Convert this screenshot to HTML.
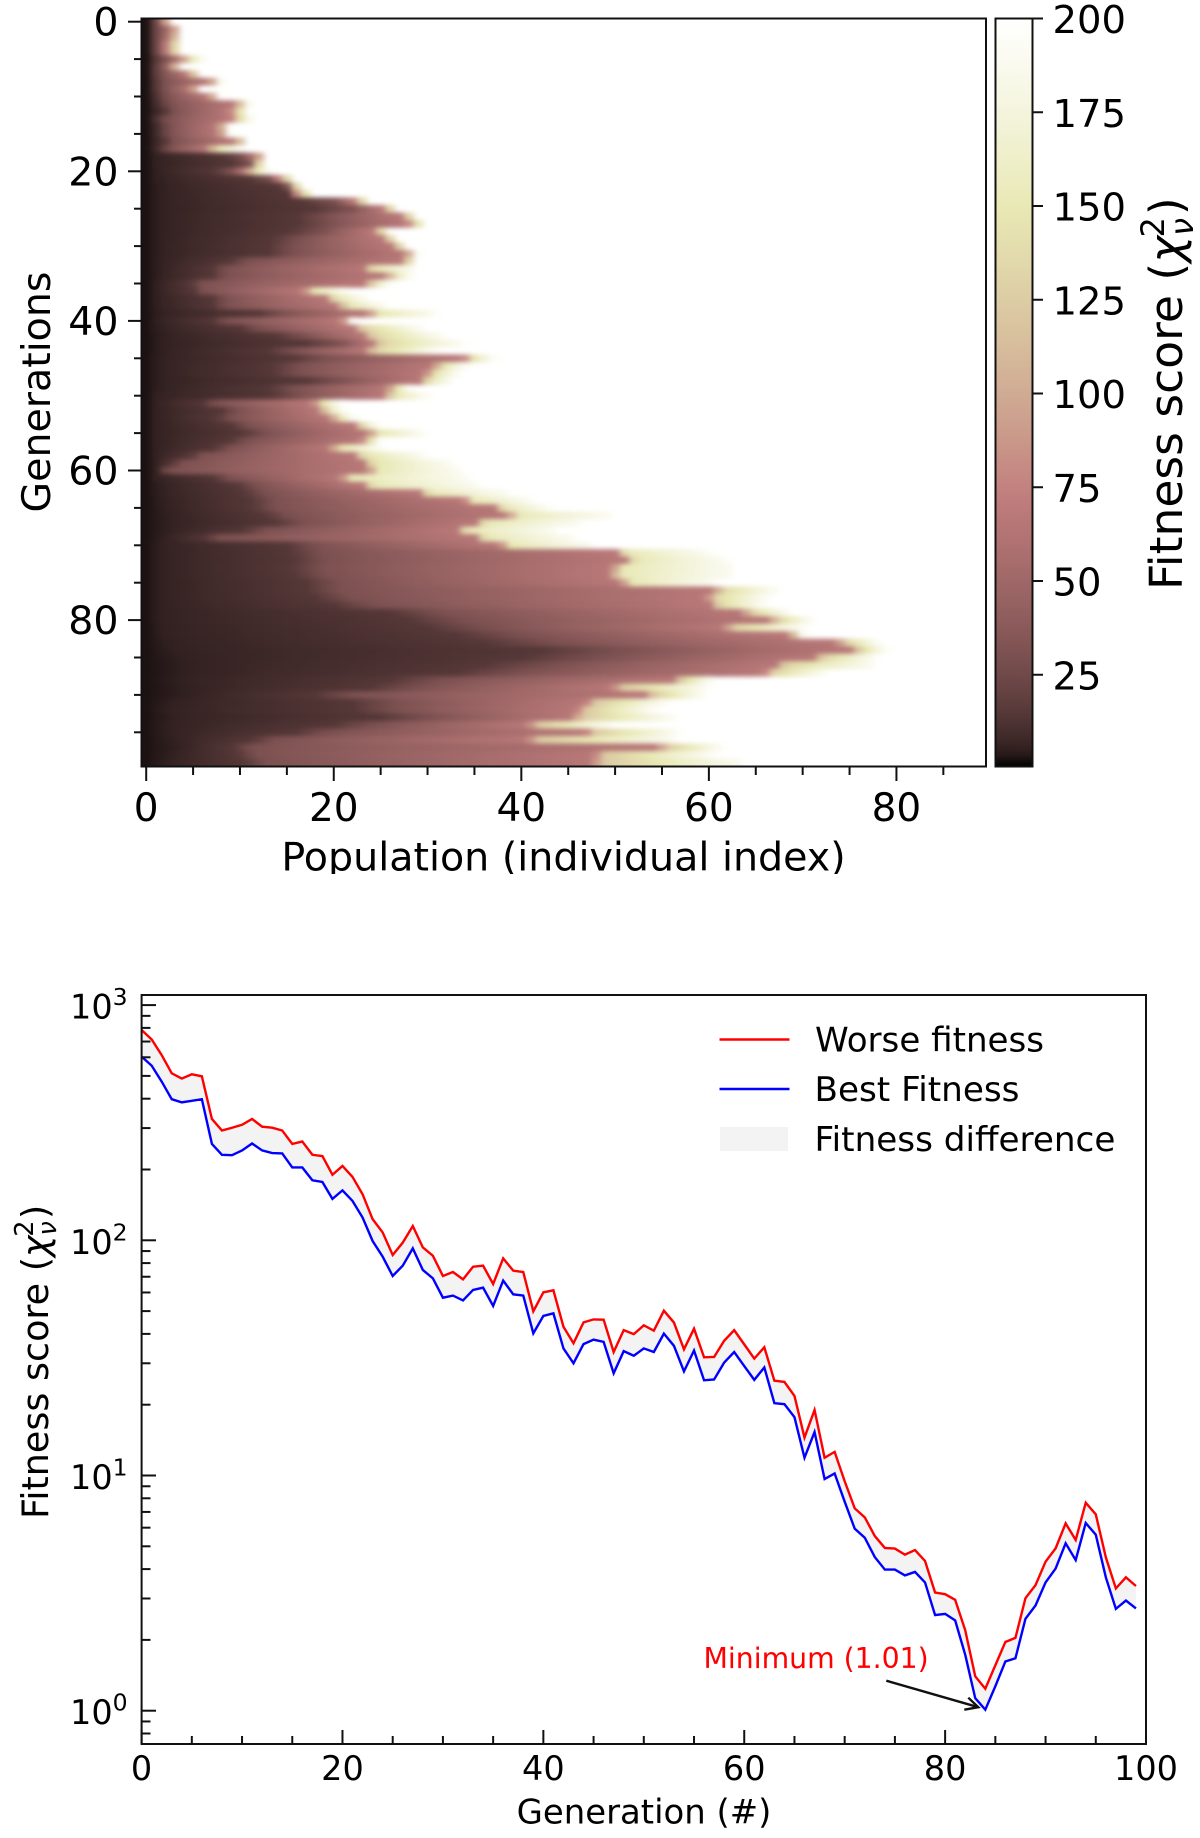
<!DOCTYPE html>
<html lang="en">
<head>
<meta charset="utf-8">
<title>Fitness heatmap and fitness curves</title>
<style>
html,body{margin:0;padding:0;background:#fff;}
svg{display:block;font-family:"DejaVu Sans","Liberation Sans",sans-serif;}
text{fill:#000;}
</style>
</head>
<body>
<svg id="figure" xmlns="http://www.w3.org/2000/svg" width="1200" height="1838" viewBox="0 0 1200 1838">
  <defs>
    <filter id="heat-blur" filterUnits="userSpaceOnUse" x="100" y="-20" width="950" height="830" color-interpolation-filters="sRGB">
      <feGaussianBlur stdDeviation="3.2 2.3"/>
    </filter>
    <clipPath id="heat-clip"><rect x="141.5" y="18" width="844.5" height="748.5"/></clipPath>
    <clipPath id="xlabel-clip"><rect x="200" y="830" width="800" height="44"/></clipPath>
    <linearGradient id="cbar-gradient" x1="0" y1="1" x2="0" y2="0"></linearGradient>
  </defs>

  <g id="heat-panel">
    <g clip-path="url(#heat-clip)">
      <g id="heat-cells" filter="url(#heat-blur)">
        <rect x="100" y="-20" width="950" height="830" fill="#fff"/>
      </g>
    </g>
    <rect x="141.5" y="18.5" width="844.5" height="748" fill="none" stroke="#111" stroke-width="2"/>
    <g id="heat-axes" stroke="#111" stroke-width="2"></g>
    <text transform="translate(50,392) rotate(-90)" text-anchor="middle" font-size="39.5">Generations</text>
    <g clip-path="url(#xlabel-clip)">
      <text x="563.5" y="870.5" text-anchor="middle" font-size="39.6">Population (individual index)</text>
    </g>
  </g>

  <g id="colorbar">
    <rect x="995.5" y="18.5" width="37" height="748" fill="url(#cbar-gradient)" stroke="#111" stroke-width="2"/>
    <g id="cbar-axis" stroke="#111" stroke-width="2"></g>
    <text transform="translate(1182,590) rotate(-90)" font-size="45.6">Fitness score (<tspan font-style="italic">χ</tspan><tspan font-style="italic" font-size="32" dy="11">ν</tspan><tspan font-size="32" dx="-19.5" dy="-29">2</tspan><tspan dx="2" dy="18">)</tspan></text>
  </g>

  <g id="line-panel">
    <g id="line-marks"></g>
    <rect x="141.6" y="995" width="1004.4" height="749" fill="none" stroke="#111" stroke-width="2"/>
    <g id="line-axes" stroke="#111" stroke-width="2"></g>
    <text transform="translate(48,1519) rotate(-90)" font-size="36.5">Fitness score (<tspan font-style="italic">χ</tspan><tspan font-style="italic" font-size="25.5" dy="8">ν</tspan><tspan font-size="25.5" dx="-15.5" dy="-23">2</tspan><tspan dx="1.5" dy="15">)</tspan></text>
    <text x="644" y="1823.5" text-anchor="middle" font-size="33.9">Generation (#)</text>

    <g>
      <line x1="719.5" y1="1039.5" x2="789.5" y2="1039.5" stroke="#ff0000" stroke-width="2.4"/>
      <text x="815" y="1051.5" font-size="34.1">Worse fitness</text>
      <line x1="719.5" y1="1089" x2="789.5" y2="1089" stroke="#0000ff" stroke-width="2.4"/>
      <text x="814.5" y="1101" font-size="34.2">Best Fitness</text>
      <rect x="720" y="1127" width="68" height="24" fill="#f3f3f3"/>
      <text x="814.5" y="1151" font-size="34.2">Fitness difference</text>
    </g>

    <text x="703.5" y="1668" font-size="28.3" style="fill:#ff0000">Minimum (1.01)</text>
    <g id="min-arrow" fill="none" stroke="#111" stroke-width="2.4"></g>
  </g>
</svg>

<script>
// ---- heatmap data: per generation, the population index where the fitness crosses each level ----
const heatEdgeDark = [
  .3,.3,.3,.3,.3,.5,.5,.5,.5,.5, .6,.6,.8,.6,.8,.8,.8,.8,1,1,
  1.2,1.2,1.5,1.5,1.5,1.5,1.5,1.5,1.5,1.5, 1.5,1.5,1.5,1.5,1.5,1.2,1.2,1.2,1.2,1.5,
  1.2,1.5,2,2,2,1.5,1.5,1.5,1.5,1.5, 1,1,1,1,1,1,1,1,1,1,
  1,1,1.5,1.5,2,2,2.5,2.5,2.5,2, 1.5,1.5,1.5,1.5,1.5,1.5,1.5,1.5,1.5,1.5,
  1.5,2,2,2.5,3,4,4.5,4.5,4,4.5, 4.5,3,2.5,3,2.5,2.5,3,3.5,3,2.5
];
const heatEdgeMid = [
  .4,.5,.5,.5,.5,1,.8,.8,1,1, 1.2,1.5,2,1.2,1.5,1.5,2,1.5,8.5,9.5,
  7.3,11,14.2,15.5,16.6,18,16,16.2,15.5,13.5, 13,13,8.9,7,7,4.8,5,7,7,12,
  7,10,13.8,17,13,15.8,13.5,13.5,17,13, 13.5,6,8,7.5,9,10.5,8.9,7.3,4.8,2.8,
  1.5,7.3,9.7,10.5,11.3,11.3,12.6,13.8,10.5,6.4, 15,15.4,15.8,15.4,15.8,17,17,18,20,26,
  28,30,33,36,42,40,36,33,26,24, 18,22,22,25,20,16,11.3,9.3,9.7,10.5
];
const heatEdgeRose = [
  1.6,2.6,2.4,2,2,3.6,2.4,4.2,6.6,4.6, 6.5,9.3,8.8,8.9,7.5,7.6,9.3,6.4,11.6,11,
  10.5,14,15,15.8,22,25,27,27.8,24,25, 26,27.5,27,23,25.4,23.2,16.7,19,20.3,23.6,
  20.7,22,23,24,23.2,33.8,30.5,29.7,29,25.6, 25.2,17.7,18.3,19.5,22,23.6,22.8,19.5,22,23,
  23.6,20.7,23,29,33.8,37,38.5,35,33,35, 37.7,50,51,49.6,49.4,50.6,60.4,59.6,60,63.4,
  66.3,61.5,68.2,73.5,75,71,67,65.8,56,49.6, 53,46.8,45.8,45.3,40.6,46.8,40.6,54.4,47.7,47.5
];
const heatEdgeCream = [
  1.7,2.7,2.5,2.1,2.1,5.8,2.8,5,7.9,5.2, 7.3,10.9,10.1,11.1,8.3,8.5,10.1,9.9,12.2,12.2,
  13,14.6,15.6,16.4,22.4,25.4,27.3,28.3,24.4,25.4, 26.7,28.5,28,28.3,28,25.6,21,23.2,25.2,30.5,
  21.6,28.9,31.3,33.4,30.5,36.7,33.8,33,32.2,27.7, 29.7,20.3,20.7,22,24.4,29.3,24.4,24.6,29.3,32,
  33,33.8,35,38,40.6,42.5,49.2,45.8,43,45, 47.2,59.6,61.5,62,62,60,66.8,65.8,65.4,68.2,
  70.6,69.6,70,77.7,78.5,77.3,77,72,60,59.4, 59,55,53.5,55.8,49,56.3,55.8,61,59.7,63
];
// fitness just past the rose edge (pale yellow up top, tan toward the late generations)
const fitnessAfterRose = [
  145,145,145,145,145,145,145,145,145,145, 145,145,145,145,145,145,145,145,145,145,
  145,145,145,145,145,145,145,145,145,145, 145,145,145,145,145,145,145,145,145,145,
  145,130,130,130,130,145,145,145,145,145, 145,145,145,145,145,145,145,145,145,145,
  150,150,150,150,150,150,150,150,150,150, 150,150,150,150,150,150,135,135,135,130,
  130,130,130,130,130,130,130,130,130,122, 122,122,122,122,122,122,122,122,122,122
];
// fitness level reached at each edge above
const fitnessAtStart = 1.5;
const fitnessAtDark = 5;
const fitnessAtMid = 14;
const fitnessAfterMid = 30;
const fitnessAtRose = 66;
const fitnessAtCream = 188;
const fitnessBlank = 200;

const heatXTicks = [0,20,40,60,80];
const heatXMinor = [5,10,15,25,30,35,45,50,55,65,70,75,85];
const heatYTicks = [0,20,40,60,80];
const heatYMinor = [5,10,15,25,30,35,45,50,55,65,70,75,85,90,95];
const cbarTicks = [25,50,75,100,125,150,175,200];

// ---- curve data ----
const generations = [0,1,2,3,4,5,6,7,8,9,10,11,12,13,14,15,16,17,18,19,20,21,22,23,24,25,26,27,28,29,30,31,32,33,34,35,36,37,38,39,40,41,42,43,44,45,46,47,48,49,50,51,52,53,54,55,56,57,58,59,60,61,62,63,64,65,66,67,68,69,70,71,72,73,74,75,76,77,78,79,80,81,82,83,84,85,86,87,88,89,90,91,92,93,94,95,96,97,98,99];
const worseFitness = [
  784,715,613,513,487,508,498,328,293,301, 310,328,304,301,293,257,263,231,228,190,
  207,186,157,123,108,86.6,97.7,115,93.3,86, 70.5,73.3,68.2,77.2,78,65.2,83.8,74.3,73.3,49.9,
  60.1,61.3,42.9,36.5,44.8,46.1,46,33.5,41.5,39.9, 43.5,41.3,50.2,44.7,34.4,42.1,31.8,31.9,37.4,41.5,
  36.1,31.4,35.1,25.3,25,21.8,14.5,19,11.9,12.6, 9.45,7.25,6.64,5.53,4.92,4.89,4.61,4.82,4.33,3.18,
  3.13,2.96,2.2,1.4,1.24,1.56,1.96,2.04,3.01,3.42, 4.3,4.9,6.26,5.32,7.66,6.84,4.49,3.31,3.69,3.39
];
const bestFitness = [
  604,553,473,398,386,392,398,257,231,230, 241,258,241,235,234,204,204,180,177,150,
  163,147,125,99.3,85.2,70.5,78,92.4,74.8,68.9, 57,58.2,55.5,61.5,62.9,52.6,67.4,58.9,58.2,40.2,
  47.7,48.9,34.7,30,36.2,37.8,37,27.2,33.8,32.3, 34.7,33.5,40.1,35.6,27.7,34,25.4,25.6,30.2,33.5,
  29.2,25.5,28.8,20.3,20.1,17.7,11.9,15.3,9.66,10.2, 7.74,5.94,5.44,4.5,3.98,3.98,3.76,3.89,3.51,2.55,
  2.58,2.42,1.73,1.13,1.01,1.27,1.62,1.67,2.46,2.8, 3.51,4.02,5.15,4.37,6.28,5.6,3.69,2.71,2.94,2.72
];
const minimumGeneration = 84;
const minimumValue = 1.01;
const lineXTicks = [0,20,40,60,80,100];
const lineXMinor = [5,10,15,25,30,35,45,50,55,65,70,75,85,90,95];
const lineYExponents = [0,1,2,3];
const lineYMinor = [.8,.9,2,3,4,5,6,7,8,9,20,30,40,50,60,70,80,90,200,300,400,500,600,700,800,900];

// ---- axis functions ----
function heatX(i){ return 146.2 + 9.378 * i; }
function heatY(g){ return 21.7 + 7.48 * g; }
function cbarY(v){ return 18.5 + (200 - v) * 3.75; }
function lineX(g){ return 141.6 + 10.044 * g; }
function lineY(v){ return 1710.7 - 235.2 * Math.log10(v); }

// ---- helpers ----
const NS = 'http://www.w3.org/2000/svg';
function make(tag, parent, props){
  const node = document.createElementNS(NS, tag);
  for (const k in props) node.setAttribute(k, props[k]);
  parent.appendChild(node);
  return node;
}
// matplotlib "pink" colormap
function pink(t){
  const hr = Math.min(1, t / 0.365);
  const hg = Math.max(0, Math.min(1, (t - 0.365) / 0.381));
  const hb = Math.max(0, Math.min(1, (t - 0.746) / 0.254));
  const c = h => Math.round(255 * Math.sqrt((2 * t + h) / 3));
  return 'rgb(' + c(hr) + ',' + c(hg) + ',' + c(hb) + ')';
}
function cellFitness(row, col){
  const mid = heatEdgeMid[row];
  const soft = Math.max(1, mid * 0.22);
  const xs = [0, heatEdgeDark[row], mid, mid + soft,
              heatEdgeRose[row], heatEdgeRose[row] + 1.2, heatEdgeCream[row], heatEdgeCream[row] + 0.8];
  const vs = [fitnessAtStart, fitnessAtDark, fitnessAtMid, fitnessAfterMid,
              fitnessAtRose, fitnessAfterRose[row], fitnessAtCream, fitnessBlank];
  if (heatEdgeRose[row] < xs[3]) { xs[3] = heatEdgeRose[row]; }
  for (let k = 1; k < xs.length; k++) { if (xs[k] <= xs[k-1]) xs[k] = xs[k-1] + 0.01; }
  if (col >= xs[7]) return fitnessBlank;
  for (let k = 1; k < xs.length; k++) {
    if (col <= xs[k]) {
      return vs[k-1] + (vs[k] - vs[k-1]) * (col - xs[k-1]) / (xs[k] - xs[k-1]);
    }
  }
  return fitnessBlank;
}

// ---- heatmap ----
const heatCells = document.getElementById('heat-cells');
for (let row = 0; row < heatEdgeCream.length; row++) {
  for (let col = 0; col < 90; col++) {
    const v = cellFitness(row, col);
    if (v >= fitnessBlank) continue;
    let x0 = heatX(col - 0.5), y0 = heatY(row - 0.5), x1 = heatX(col + 0.5) + 0.4, y1 = heatY(row + 0.5) + 0.4;
    if (col === 0) x0 -= 24;
    if (row === 0) y0 -= 24;
    if (row === heatEdgeCream.length - 1) y1 += 24;
    const cell = make('rect', heatCells, {x: x0, y: y0, width: x1 - x0, height: y1 - y0, fill: pink(v / 200)});
    
    
  }
}

// ---- heatmap axes ----
const heatAxes = document.getElementById('heat-axes');
heatXTicks.forEach(function(t){
  const tick = make('line', heatAxes, {x1: heatX(t), x2: heatX(t), y1: 766.5, y2: 781});
  
  
  const label = make('text', heatAxes, {x: heatX(t), y: 821, 'text-anchor': 'middle', 'font-size': 39, stroke: 'none'});
  label.textContent = t;
  
  
});
heatXMinor.forEach(function(t){
  const tick = make('line', heatAxes, {x1: heatX(t), x2: heatX(t), y1: 766.5, y2: 775});
  
  
});
heatYTicks.forEach(function(t){
  const tick = make('line', heatAxes, {x1: 128, x2: 141.5, y1: heatY(t), y2: heatY(t)});
  
  
  const label = make('text', heatAxes, {x: 118.5, y: heatY(t) + 14, 'text-anchor': 'end', 'font-size': 39.5, stroke: 'none'});
  label.textContent = t;
  
  
});
heatYMinor.forEach(function(t){
  const tick = make('line', heatAxes, {x1: 134, x2: 141.5, y1: heatY(t), y2: heatY(t)});
  
  
});

// ---- colorbar ----
const cbarGradient = document.getElementById('cbar-gradient');
for (let s = 0; s <= 64; s++) {
  make('stop', cbarGradient, {offset: s / 64, 'stop-color': pink(s / 64)});
}
const cbarAxis = document.getElementById('cbar-axis');
cbarTicks.forEach(function(t){
  const tick = make('line', cbarAxis, {x1: 1033, x2: 1043, y1: cbarY(t), y2: cbarY(t)});
  
  
  const label = make('text', cbarAxis, {x: 1052.5, y: cbarY(t) + 14.5, 'font-size': 38.5, stroke: 'none'});
  label.textContent = t;
  
  
});

// ---- curves ----
const lineMarks = document.getElementById('line-marks');
const worsePts = generations.map(function(g, k){ return lineX(g) + ',' + lineY(worseFitness[k]); });
const bestPts = generations.map(function(g, k){ return lineX(g) + ',' + lineY(bestFitness[k]); });
const band = make('polygon', lineMarks, {points: worsePts.concat(bestPts.slice().reverse()).join(' '), fill: '#f3f3f3'});


const bestLine = make('polyline', lineMarks, {points: bestPts.join(' '), fill: 'none', stroke: '#0000ff', 'stroke-width': 2.4});


const worseLine = make('polyline', lineMarks, {points: worsePts.join(' '), fill: 'none', stroke: '#ff0000', 'stroke-width': 2.4});



// ---- curve axes ----
const lineAxes = document.getElementById('line-axes');
lineXTicks.forEach(function(t){
  const tick = make('line', lineAxes, {x1: lineX(t), x2: lineX(t), y1: 1744, y2: 1730});
  
  
  const label = make('text', lineAxes, {x: lineX(t), y: 1780, 'text-anchor': 'middle', 'font-size': 33.5, stroke: 'none'});
  label.textContent = t;
  
  
});
lineXMinor.forEach(function(t){
  const tick = make('line', lineAxes, {x1: lineX(t), x2: lineX(t), y1: 1744, y2: 1736});
  
  
});
lineYExponents.forEach(function(e){
  const v = Math.pow(10, e);
  const tick = make('line', lineAxes, {x1: 141.6, x2: 156, y1: lineY(v), y2: lineY(v)});
  
  
  const label = make('text', lineAxes, {x: 70, y: lineY(v) + 13.5, 'font-size': 33.5, stroke: 'none'});
  
  
  const base = make('tspan', label, {});
  base.textContent = '10';
  const power = make('tspan', label, {'font-size': 23.5, dy: -13.5});
  power.textContent = e;
});
lineYMinor.forEach(function(v){
  const tick = make('line', lineAxes, {x1: 141.6, x2: 150.5, y1: lineY(v), y2: lineY(v)});
  
  
});

// ---- minimum arrow ----
const arrow = document.getElementById('min-arrow');
const tipX = lineX(minimumGeneration) - 7;
const tipY = lineY(minimumValue) - 2.5;
const shaft = make('line', arrow, {x1: tipX - 92, y1: tipY - 26.5, x2: tipX, y2: tipY});


const head = make('polyline', arrow, {points: (tipX - 10) + ',' + (tipY - 9.5) + ' ' + tipX + ',' + tipY + ' ' + (tipX - 14) + ',' + (tipY + 2.5)});


</script>
</body>
</html>
